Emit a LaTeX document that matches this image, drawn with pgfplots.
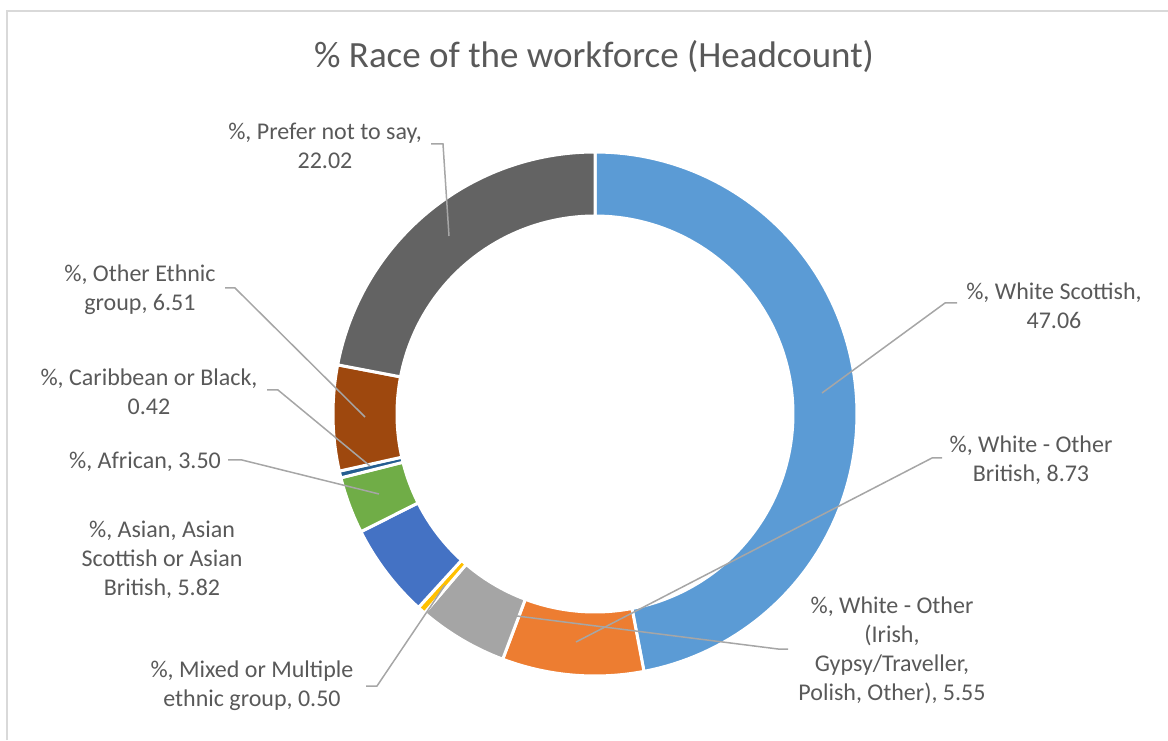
\documentclass[border=0pt]{standalone}
\usepackage{fontspec}
\setmainfont{Carlito}
\usepackage{pgfplots}
\pgfplotsset{compat=1.18}
\definecolor{cWS}{HTML}{5B9BD5}
\definecolor{cWOB}{HTML}{ED7D31}
\definecolor{cWOI}{HTML}{A5A5A5}
\definecolor{cMix}{HTML}{FFC000}
\definecolor{cAsi}{HTML}{4472C4}
\definecolor{cAfr}{HTML}{70AD47}
\definecolor{cCar}{HTML}{255E91}
\definecolor{cOth}{HTML}{9E480E}
\definecolor{cPre}{HTML}{636363}
\definecolor{txt}{HTML}{595959}
\definecolor{lead}{HTML}{A6A6A6}
\definecolor{frame}{HTML}{D9D9D9}
\tikzset{lab/.style={text=txt, align=center, font=\fontsize{24}{29}\selectfont, inner sep=0pt}}
\def\cum{0}
\def\total{100.11}
\newcommand\seg[2]{%
  \pgfmathsetmacro\aa{90-\cum/\total*360}%
  \pgfmathsetmacro\newcum{\cum+#2}%
  \pgfmathsetmacro\bb{90-\newcum/\total*360}%
  \pgfmathsetmacro\dd{\bb-\aa}%
  \xdef\cum{\newcum}%
  \edef\tmp{\noexpand\addplot[fill=#1, draw=white, line width=3pt, no markers, samples at={0,...,201}]
    ({595+ifthenelse(x<100.5,262,198)*cos(ifthenelse(x<100.5,(\aa)+x/100*(\dd),(\bb)-(x-101)/100*(\dd)))},
     {326+ifthenelse(x<100.5,262,198)*sin(ifthenelse(x<100.5,(\aa)+x/100*(\dd),(\bb)-(x-101)/100*(\dd)))}) -- cycle;}%
  \tmp}
\begin{document}
\begin{tikzpicture}
\useasboundingbox (0,0) rectangle (1168pt,740pt);
\begin{axis}[
  scale only axis, width=1168pt, height=740pt,
  xmin=0, xmax=1168, ymin=0, ymax=740,
  hide axis, clip=false,
]
% frame
\draw[frame, line width=1.5pt] (axis cs:7,0) -- (axis cs:7,729) -- (axis cs:1168,729);
% donut segments (values in %), clockwise from 12 o'clock
\seg{cWS}{47.06}
\seg{cWOB}{8.73}
\seg{cWOI}{5.55}
\seg{cMix}{0.50}
\seg{cAsi}{5.82}
\seg{cAfr}{3.50}
\seg{cCar}{0.42}
\seg{cOth}{6.51}
\seg{cPre}{22.02}
% leader lines
\addplot[lead, line width=1.5pt, no markers] coordinates {(431,596) (443,596) (449,504)};
\addplot[lead, line width=1.5pt, no markers] coordinates {(957,437) (945,437) (822,347)};
\addplot[lead, line width=1.5pt, no markers] coordinates {(942,282) (932,282) (576,98)};
\addplot[lead, line width=1.5pt, no markers] coordinates {(788,91) (778,91) (517,124)};
\addplot[lead, line width=1.5pt, no markers] coordinates {(366,54) (377,54) (445,155)};
\addplot[lead, line width=1.5pt, no markers] coordinates {(228,280) (242,280) (379,246)};
\addplot[lead, line width=1.5pt, no markers] coordinates {(267,350) (278,350) (370,274)};
\addplot[lead, line width=1.5pt, no markers] coordinates {(225,452) (235,452) (365,323)};
% labels
\node[text=txt, font=\fontsize{37}{44}\selectfont] at (axis cs:594,683) {\% Race of the workforce (Headcount)};
\node[lab] at (axis cs:325,594.5) {\%, Prefer not to say,\\22.02};
\node[lab] at (axis cs:1054,434) {\%, White Scottish,\\47.06};
\node[lab] at (axis cs:1031,280) {\%, White - Other\\British, 8.73};
\node[lab] at (axis cs:892,90) {\%, White - Other\\(Irish,\\Gypsy/Traveller,\\Polish, Other), 5.55};
\node[lab] at (axis cs:252,54) {\%, Mixed or Multiple\\ethnic group, 0.50};
\node[lab] at (axis cs:162,180) {\%, Asian, Asian\\Scottish or Asian\\British, 5.82};
\node[lab] at (axis cs:145,278) {\%, African, 3.50};
\node[lab] at (axis cs:149,348) {\%, Caribbean or Black,\\0.42};
\node[lab] at (axis cs:140,450.5) {\%, Other Ethnic\\group, 6.51};
\end{axis}
\end{tikzpicture}
\end{document}
